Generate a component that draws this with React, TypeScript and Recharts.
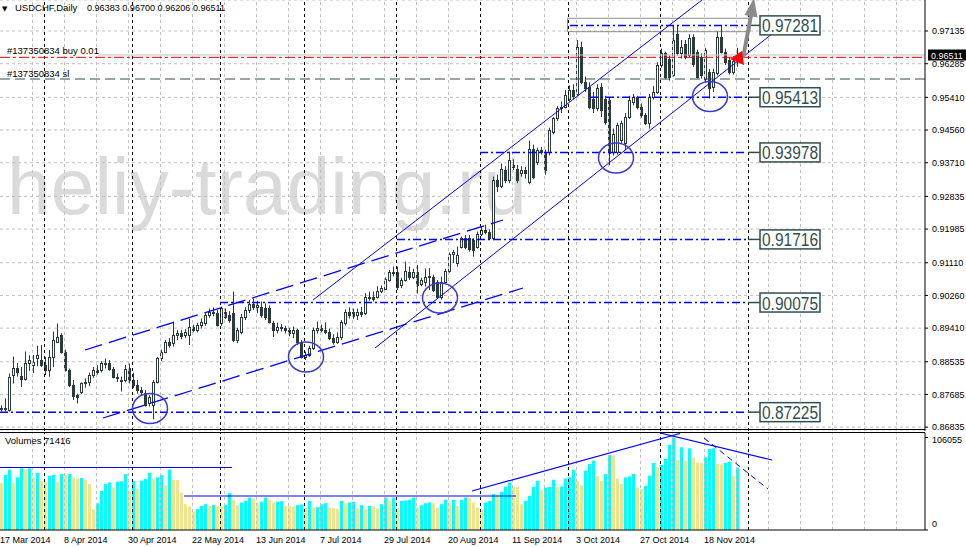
import React from "react";
import {
  ComposedChart,
  Bar,
  XAxis,
  YAxis,
  CartesianGrid,
  ReferenceLine,
  ReferenceDot,
  ReferenceArea,
} from "recharts";

// daily USDCHF candles, 17 Mar 2014 .. 28 Nov 2014
const opens = [
  0.8734, 0.873, 0.8728, 0.8819, 0.8836, 0.8816, 0.8808, 0.885, 0.8845, 0.8863,
  0.8858, 0.8845, 0.8832, 0.8865, 0.8906, 0.8923, 0.888, 0.8832, 0.8793, 0.8767,
  0.8776, 0.8797, 0.8801, 0.8819, 0.8832, 0.8832, 0.8849, 0.8849, 0.8834, 0.8815,
  0.8806, 0.8806, 0.8836, 0.8806, 0.8793, 0.878, 0.8771, 0.8745, 0.8741, 0.8802,
  0.8862, 0.888, 0.8906, 0.8901, 0.8923, 0.8927, 0.8923, 0.8923, 0.8945, 0.8936,
  0.8949, 0.8953, 0.8975, 0.8984, 0.898, 0.8953, 0.8984, 0.8975, 0.898, 0.891,
  0.8932, 0.8971, 0.8988, 0.9005, 0.8997, 0.8997, 0.8992, 0.8992, 0.8953, 0.8936,
  0.8945, 0.894, 0.8936, 0.8927, 0.8936, 0.8906, 0.8867, 0.8871, 0.8888, 0.8936,
  0.894, 0.8936, 0.893, 0.8915, 0.8906, 0.8918, 0.8953, 0.8983, 0.8983, 0.8975,
  0.8983, 0.898, 0.9023, 0.9022, 0.9022, 0.9038, 0.9043, 0.9067, 0.9088, 0.9088,
  0.9053, 0.9066, 0.9088, 0.9073, 0.9088, 0.9057, 0.9062, 0.9073, 0.9073, 0.9062,
  0.9022, 0.9062, 0.909, 0.9133, 0.9109, 0.9153, 0.9175, 0.9175, 0.917, 0.9153,
  0.9185, 0.9196, 0.9192, 0.9175, 0.9326, 0.931, 0.9352, 0.9326, 0.9365, 0.9356,
  0.9345, 0.9352, 0.9322, 0.9408, 0.9374, 0.9404, 0.94, 0.9398, 0.9452, 0.9486,
  0.9512, 0.9517, 0.9538, 0.956, 0.9551, 0.9673, 0.9582, 0.9569, 0.9538, 0.9512,
  0.9569, 0.9538, 0.9534, 0.94, 0.94, 0.943, 0.9421, 0.9491, 0.953, 0.9541,
  0.9517, 0.9495, 0.9473, 0.9543, 0.9556, 0.9625, 0.9655, 0.9642, 0.96, 0.9705,
  0.9655, 0.9681, 0.965, 0.9699, 0.966, 0.9647, 0.959, 0.9608, 0.9569, 0.9603,
  0.9699, 0.966, 0.9638, 0.9608, 0.96383,
];
const highs = [
  0.874, 0.8758, 0.8823, 0.8867, 0.885, 0.884, 0.888, 0.887, 0.8871, 0.8895,
  0.8897, 0.8866, 0.8884, 0.8932, 0.8953, 0.8928, 0.8885, 0.8836, 0.8806, 0.8771,
  0.88, 0.881, 0.8825, 0.884, 0.8845, 0.8855, 0.8862, 0.8858, 0.884, 0.8823,
  0.8815, 0.8845, 0.8849, 0.8825, 0.8806, 0.8788, 0.878, 0.8767, 0.8806, 0.8866,
  0.8885, 0.891, 0.8915, 0.8958, 0.8936, 0.8936, 0.8938, 0.8966, 0.895, 0.8955,
  0.8966, 0.898, 0.8992, 0.8995, 0.8988, 0.8997, 0.8992, 0.8985, 0.9036, 0.8942,
  0.8978, 0.8995, 0.9014, 0.9018, 0.9012, 0.901, 0.9005, 0.9, 0.896, 0.8955,
  0.8952, 0.8947, 0.8942, 0.8945, 0.894, 0.891, 0.888, 0.8895, 0.8942, 0.8958,
  0.895, 0.8956, 0.894, 0.8925, 0.893, 0.8962, 0.899, 0.8995, 0.8992, 0.8992,
  0.8996, 0.9032, 0.9036, 0.9036, 0.905, 0.9052, 0.9073, 0.9092, 0.9101, 0.9101,
  0.9072, 0.9114, 0.9101, 0.9095, 0.9105, 0.9072, 0.9096, 0.9097, 0.908, 0.9066,
  0.9075, 0.9095, 0.9138, 0.9144, 0.9153, 0.9179, 0.9183, 0.9183, 0.9175, 0.9192,
  0.9205, 0.921, 0.9198, 0.9335, 0.934, 0.9369, 0.9362, 0.94, 0.938, 0.9365,
  0.9362, 0.936, 0.9428, 0.9418, 0.941, 0.9412, 0.9405, 0.9462, 0.949, 0.9518,
  0.953, 0.956, 0.9572, 0.9575, 0.969, 0.9686, 0.9595, 0.958, 0.9555, 0.9575,
  0.9578, 0.9545, 0.954, 0.946, 0.9475, 0.948, 0.95, 0.9545, 0.955, 0.9545,
  0.9525, 0.95, 0.955, 0.957, 0.9632, 0.9668, 0.966, 0.965, 0.9728, 0.9728,
  0.969, 0.969, 0.9705, 0.9705, 0.9665, 0.9655, 0.967, 0.9615, 0.9615, 0.9712,
  0.9729, 0.9668, 0.9645, 0.9648, 0.967,
];
const lows = [
  0.8724, 0.8724, 0.8724, 0.8797, 0.8815, 0.8788, 0.8805, 0.883, 0.8824, 0.8842,
  0.884, 0.8819, 0.8815, 0.884, 0.8902, 0.8875, 0.8828, 0.8788, 0.8754, 0.8745,
  0.877, 0.8786, 0.879, 0.8812, 0.882, 0.8826, 0.8836, 0.883, 0.881, 0.8801,
  0.8776, 0.88, 0.8797, 0.8785, 0.8771, 0.8767, 0.8737, 0.8737, 0.8704, 0.8797,
  0.8855, 0.8876, 0.889, 0.8893, 0.891, 0.8912, 0.8915, 0.8897, 0.893, 0.893,
  0.894, 0.8947, 0.8968, 0.8972, 0.8945, 0.8947, 0.8965, 0.8955, 0.8905, 0.8902,
  0.8925, 0.8962, 0.898, 0.8988, 0.898, 0.8968, 0.8962, 0.8953, 0.8918, 0.8927,
  0.8932, 0.8927, 0.892, 0.8915, 0.8897, 0.8862, 0.8858, 0.8866, 0.8884, 0.8927,
  0.893, 0.8925, 0.891, 0.8898, 0.89, 0.891, 0.8948, 0.8966, 0.8965, 0.8962,
  0.897, 0.8975, 0.9012, 0.901, 0.9018, 0.9032, 0.904, 0.9062, 0.9075, 0.904,
  0.9045, 0.9062, 0.9066, 0.9068, 0.9031, 0.905, 0.9049, 0.904, 0.9035, 0.9018,
  0.9015, 0.9055, 0.9085, 0.911, 0.9101, 0.9148, 0.9146, 0.914, 0.9127, 0.9148,
  0.918, 0.9185, 0.917, 0.917, 0.9295, 0.9305, 0.9318, 0.9318, 0.9352, 0.9318,
  0.9335, 0.933, 0.9315, 0.9328, 0.9365, 0.9392, 0.934, 0.939, 0.9445, 0.948,
  0.95, 0.9512, 0.953, 0.9535, 0.9545, 0.9575, 0.9555, 0.951, 0.95, 0.9505,
  0.949, 0.947, 0.9365, 0.939, 0.9392, 0.942, 0.9404, 0.9485, 0.952, 0.951,
  0.9488, 0.9469, 0.946, 0.9535, 0.955, 0.9618, 0.9588, 0.9585, 0.9595, 0.965,
  0.9642, 0.964, 0.9645, 0.962, 0.959, 0.959, 0.958, 0.9538, 0.9555, 0.9598,
  0.9655, 0.9625, 0.96, 0.96, 0.96206,
];
const closes = [
  0.873, 0.8733, 0.8815, 0.8836, 0.8828, 0.8808, 0.885, 0.8857, 0.8853, 0.8871,
  0.8845, 0.8832, 0.8865, 0.891, 0.8919, 0.888, 0.8832, 0.8793, 0.8764, 0.8761,
  0.8797, 0.8801, 0.8819, 0.8832, 0.8828, 0.8849, 0.8848, 0.8834, 0.8815, 0.8811,
  0.8804, 0.8834, 0.8806, 0.8793, 0.878, 0.8776, 0.8741, 0.8763, 0.8802, 0.8862,
  0.888, 0.8906, 0.8897, 0.8923, 0.8927, 0.892, 0.893, 0.8945, 0.8936, 0.8949,
  0.8958, 0.8975, 0.8984, 0.898, 0.8949, 0.8992, 0.8971, 0.8962, 0.891, 0.8936,
  0.8971, 0.8988, 0.9005, 0.8997, 0.9001, 0.8975, 0.8971, 0.8958, 0.8936, 0.8945,
  0.894, 0.8936, 0.8927, 0.8936, 0.8906, 0.8867, 0.8871, 0.8888, 0.8936, 0.894,
  0.8936, 0.893, 0.8915, 0.8904, 0.8919, 0.8957, 0.8983, 0.8975, 0.8972, 0.8983,
  0.8978, 0.9023, 0.9019, 0.9017, 0.9038, 0.9045, 0.9069, 0.9088, 0.9085, 0.9049,
  0.9066, 0.909, 0.9073, 0.9086, 0.9053, 0.9066, 0.9075, 0.9077, 0.904, 0.9022,
  0.9062, 0.909, 0.9133, 0.9138, 0.9131, 0.9175, 0.9153, 0.9148, 0.9144, 0.9187,
  0.9196, 0.9192, 0.9175, 0.9326, 0.931, 0.9355, 0.9326, 0.9378, 0.936, 0.9326,
  0.9352, 0.9343, 0.9408, 0.9335, 0.9404, 0.94, 0.9352, 0.9456, 0.9486, 0.9512,
  0.9517, 0.9547, 0.956, 0.9545, 0.9673, 0.9582, 0.9564, 0.9517, 0.9512, 0.9564,
  0.9508, 0.9478, 0.9395, 0.9447, 0.9469, 0.9473, 0.9491, 0.9534, 0.9541, 0.9517,
  0.9495, 0.9473, 0.9543, 0.9556, 0.9625, 0.9655, 0.9595, 0.9595, 0.969, 0.9655,
  0.9673, 0.9647, 0.9695, 0.9629, 0.9595, 0.96, 0.9664, 0.9564, 0.9608, 0.9699,
  0.966, 0.9634, 0.9608, 0.9635, 0.96511,
];
const volumes = [
  53800, 63000, 69100, 54500, 60300, 70700, 69900, 70700, 60300, 65300,
  56400, 55300, 62200, 63000, 55300, 64100, 63000, 64100, 60300, 59100,
  59500, 57600, 52600, 23800, 30700, 44900, 52600, 54500, 48800, 55300,
  55700, 64100, 44900, 56400, 47600, 56400, 58400, 65300, 59100, 60300,
  63000, 51500, 69100, 57600, 57200, 43000, 29600, 26900, 20700, 23800,
  27600, 29600, 27600, 28400, 27600, 27300, 28800, 42200, 34600, 28400,
  31500, 33400, 37200, 36100, 31500, 32300, 37200, 34600, 31500, 32300,
  33000, 27600, 27300, 26900, 28400, 29200, 25700, 33400, 25700, 26100,
  29600, 30700, 25700, 25300, 24600, 33400, 30700, 31500, 32300, 25000,
  28400, 24600, 27600, 27300, 24600, 29600, 37200, 33400, 37200, 25700,
  33400, 33800, 34600, 37200, 25700, 28400, 30700, 31500, 30700, 25700,
  29600, 34600, 31500, 34600, 27600, 34600, 37200, 36800, 31500, 25700,
  23800, 31500, 33400, 41100, 40700, 43800, 49500, 54500, 49500, 49200,
  29600, 33400, 39200, 49500, 56400, 46100, 48800, 49200, 57600, 49500,
  49900, 59100, 60300, 69100, 56400, 51500, 68000, 75600, 79500, 62200,
  56400, 64100, 86000, 85600, 59100, 52600, 60300, 61400, 64100, 48800,
  46800, 50700, 62200, 76800, 71800, 74500, 81400, 97500, 106055, 80600,
  94800, 79500, 93700, 83300, 77600, 76800, 83300, 92900, 93700, 75600,
  75300, 76800, 78300, 62200, 71416,
];

const priceTicks = [
  0.97135, 0.96285, 0.9541, 0.9456, 0.9371, 0.92835, 0.91985, 0.9111, 0.9026,
  0.8941, 0.88535, 0.87685, 0.86835,
];
const dateTicks = [0, 16, 32, 48, 64, 80, 96, 112, 128, 144, 160, 176];
const dateLabels = [
  "17 Mar 2014", "8 Apr 2014", "30 Apr 2014", "22 May 2014", "13 Jun 2014", "7 Jul 2014",
  "29 Jul 2014", "20 Aug 2014", "11 Sep 2014", "3 Oct 2014", "27 Oct 2014", "18 Nov 2014",
];
const monthStarts = [11, 33, 55, 76, 99, 120, 142, 165, 187];

// horizontal levels drawn on the chart and where each one starts
const levels = [0.97281, 0.95413, 0.93978, 0.91716, 0.90075, 0.87225];
const levelStart = [142.125, 147.125, 119.625, 98.875, 54.625, -0.375];

// trend lines [x1, y1, x2, y2] in bar index / price
const solidLines = [
  [77.875, 0.90141, 175.125, 0.97941],
  [93.375, 0.88893, 195.125, 0.97265],
];
const dashedLines = [
  [20.875, 0.88841, 125.375, 0.92221],
  [25.375, 0.87073, 130.375, 0.90453],
];
const circleX = [37.125, 76.125, 109.625, 153.625, 177.125];
const circleY = [0.8732, 0.88659, 0.90193, 0.93833, 0.95432];

// volume window lines [x1, v1, x2, v2]
const volLines = [
  [-0.375, 71650, 57.6, 71650],
  [45.625, 38980, 128.625, 38980],
  [117.625, 44710, 169.625, 110627],
  [164.625, 111200, 192.625, 80247],
];
const volDashed = [175.625, 105468, 191.625, 47002];

const FONT = "'Liberation Sans', Arial, sans-serif";
const INK = "#2b3b3b";
const BLUE = "#0000ff";
const X_DOMAIN: [number, number] = [-0.375, 230.875];
const PRICE_DOMAIN: [number, number] = [0.86735, 0.97941];

const candles = opens.map((o, i) => ({
  i,
  o,
  h: highs[i],
  l: lows[i],
  c: closes[i],
  range: [lows[i], highs[i]],
}));
const volRows = volumes.map((v, i) => ({ i, v, up: i > 0 && v > volumes[i - 1] }));
const gridX = Array.from({ length: 28 }, (_, k) => 8 * (k + 1) - 0.25);

const Candle = (props: any) => {
  const { x, y, width, height, payload } = props;
  if (x == null || !payload) return null;
  const cx = Math.round(x + width / 2 - 0.5) + 0.5;
  const top = Math.min(y, y + height);
  const h = Math.abs(height);
  const span = payload.h - payload.l;
  const py = (p: number) => (span > 0 ? top + ((payload.h - p) / span) * h : top);
  const yo = py(payload.o);
  const yc = py(payload.c);
  const bull = payload.c >= payload.o;
  const b1 = Math.round(Math.min(yo, yc)) + 0.5;
  const b2 = Math.round(Math.max(yo, yc)) + 0.5;
  return (
    <g>
      <line x1={cx} x2={cx} y1={top} y2={top + h} stroke={INK} strokeWidth={1} />
      {b2 - b1 < 1 ? (
        <line x1={cx - 1.5} x2={cx + 1.5} y1={b1} y2={b1} stroke={INK} strokeWidth={1} />
      ) : (
        <rect x={cx - 1} y={b1} width={2} height={b2 - b1} fill={bull ? "#fff" : INK} stroke={INK} strokeWidth={1} />
      )}
    </g>
  );
};

const VolBar = (props: any) => {
  const { x, y, width, height, payload } = props;
  if (x == null || !payload) return null;
  const cx = x + width / 2;
  return (
    <rect x={Math.round(cx - 1.5)} y={y} width={3} height={Math.max(0, height)} fill={payload.up ? "#00ffff" : "#efe48e"} />
  );
};

const DateTick = (props: any) => {
  const { x, y, payload } = props;
  const k = dateTicks.indexOf(payload.value);
  return (
    <text x={x - 1.5} y={y + 7} fontSize={9} fontFamily={FONT} fill="#000" textAnchor="start">
      {k >= 0 ? dateLabels[k] : ""}
    </text>
  );
};

const VolTick = (props: any) => {
  const { x, y, payload } = props;
  return (
    <text x={x} y={payload.value === 0 ? y - 3.5 : y + 6} fontSize={9} fontFamily={FONT} fill="#000">
      {payload.value}
    </text>
  );
};

const levelLabel = (text: string) => (p: any) => (
  <g>
    <line x1={p.cx - 42} x2={p.cx - 30} y1={p.cy} y2={p.cy} stroke="#2f4f4f" strokeWidth={1.5} />
    <rect x={p.cx - 30} y={p.cy - 9.5} width={60} height={19} fill="#fff" stroke="#2f4f4f" strokeWidth={1.5} />
    <text x={p.cx} y={p.cy + 7} textAnchor="middle" fontSize={18.5} fontFamily={FONT} fill="#2f4f4f" textLength={56} lengthAdjust="spacingAndGlyphs">
      {text}
    </text>
  </g>
);

const ellipse = (p: any) => (
  <ellipse cx={p.cx} cy={p.cy} rx={17.5} ry={15} fill="none" stroke="#3a3acf" strokeWidth={1.5} />
);

const grayArrow = (p: any) => (
  <g>
    <line x1={p.cx} y1={p.cy} x2={p.cx + 8} y2={p.cy - 42.3} stroke="#8a8a8a" strokeWidth={4} />
    <polygon
      points={`${p.cx + 11},${p.cy - 60} ${p.cx + 14.5},${p.cy - 40.5} ${p.cx + 1.5},${p.cy - 43}`}
      fill="#8a8a8a"
    />
  </g>
);

const redMark = (p: any) => (
  <polygon points={`${p.cx - 7},${p.cy + 1} ${p.cx + 5},${p.cy - 7} ${p.cx + 7},${p.cy + 7}`} fill="#ff0000" />
);

export default function App() {
  return (
    <div style={{ position: "relative", width: 966, height: 547, background: "#fff", overflow: "hidden" }}>
      <style>{`html,body{margin:0;padding:0;background:#fff}`}</style>

      <svg width={925} height={431} style={{ position: "absolute", left: 0, top: 0 }}>
        <text x={7} y={214} fontSize={80} fontFamily={FONT} fill="#dadada" textLength={520} lengthAdjust="spacingAndGlyphs">
          heliy-trading.ru
        </text>
      </svg>

      <div style={{ position: "absolute", left: 0, top: 0 }}>
        <ComposedChart width={966} height={431} data={candles} margin={{ top: 0, right: 0, bottom: 0, left: 0 }}>
          <CartesianGrid vertical={false} stroke="#c0c0c0" strokeDasharray="3 3" />
          <XAxis dataKey="i" type="number" domain={X_DOMAIN} allowDataOverflow hide />
          <YAxis
            orientation="right"
            width={41}
            domain={PRICE_DOMAIN}
            allowDataOverflow
            ticks={priceTicks}
            interval={0}
            tickFormatter={(v: number) => v.toFixed(5)}
            tick={{ fontSize: 9, fill: "#000", fontFamily: FONT }}
            tickSize={3}
            tickMargin={4}
            stroke="#000"
          />
          {gridX.map((gx) => (
            <ReferenceLine key={"g" + gx} x={gx} stroke="#c0c0c0" strokeDasharray="3 3" />
          ))}
          {monthStarts.map((m) => (
            <ReferenceLine key={"m" + m} x={m - 0.25} stroke="#000" strokeDasharray="3 3" />
          ))}
          <ReferenceArea x1={141.5} x2={187.125} y1={0.97117} y2={0.97465} fill="none" fillOpacity={0} stroke="#8c8c8c" ifOverflow="hidden" />
          <ReferenceLine segment={[{ x: 24.125, y: 0.96511 }, { x: 230.875, y: 0.96511 }]} stroke="#c0c0c0" ifOverflow="hidden" />
          <ReferenceLine segment={[{ x: -0.375, y: 0.9645 }, { x: 230.875, y: 0.9645 }]} stroke="#ff0000" strokeDasharray="10 3 3 3" ifOverflow="hidden" />
          <ReferenceLine segment={[{ x: -0.375, y: 0.95887 }, { x: 230.875, y: 0.95887 }]} stroke="#2f4f4f" strokeDasharray="10 5" ifOverflow="hidden" />

          <Bar dataKey="range" barSize={3} shape={Candle} isAnimationActive={false} />

          {levels.map((lv, k) => (
            <ReferenceLine
              key={"l" + lv}
              segment={[{ x: levelStart[k], y: lv }, { x: 186.375, y: lv }]}
              stroke={BLUE}
              strokeWidth={1.5}
              strokeDasharray="8 3 2 3"
              ifOverflow="hidden"
            />
          ))}
          {levels.map((lv) => (
            <ReferenceDot key={"t" + lv} x={197.125} y={lv} r={1} shape={levelLabel(lv.toFixed(5))} />
          ))}
          {solidLines.map((s, k) => (
            <ReferenceLine key={"s" + k} segment={[{ x: s[0], y: s[1] }, { x: s[2], y: s[3] }]} stroke={BLUE} strokeWidth={1} ifOverflow="hidden" />
          ))}
          {dashedLines.map((s, k) => (
            <ReferenceLine key={"d" + k} segment={[{ x: s[0], y: s[1] }, { x: s[2], y: s[3] }]} stroke={BLUE} strokeWidth={1.3} strokeDasharray="18 7" ifOverflow="hidden" />
          ))}
          {circleX.map((cx, k) => (
            <ReferenceDot key={"c" + k} x={cx} y={circleY[k]} r={1} shape={ellipse} />
          ))}
          <ReferenceDot x={185.375} y={0.96433} r={1} shape={grayArrow} />
          <ReferenceDot x={183.875} y={0.96433} r={1} shape={redMark} />
        </ComposedChart>
      </div>

      <div style={{ position: "absolute", left: 0, top: 433 }}>
        <ComposedChart width={966} height={114} data={volRows} margin={{ top: 0, right: 0, bottom: 0, left: 0 }}>
          <XAxis
            dataKey="i"
            type="number"
            domain={X_DOMAIN}
            allowDataOverflow
            ticks={dateTicks}
            interval={0}
            height={17}
            tickLine={false}
            tickSize={4}
            tickMargin={2}
            tick={DateTick}
            stroke="#000"
          />
          <YAxis
            orientation="right"
            width={41}
            domain={[0, 111200]}
            allowDataOverflow
            ticks={[0, 106055]}
            interval={0}
            tick={VolTick}
            tickSize={3}
            tickMargin={4}
            stroke="#000"
          />
          {gridX.map((gx) => (
            <ReferenceLine key={"vg" + gx} x={gx} stroke="#c0c0c0" strokeDasharray="3 3" />
          ))}
          {monthStarts.map((m) => (
            <ReferenceLine key={"vm" + m} x={m - 0.25} stroke="#000" strokeDasharray="3 3" />
          ))}
          <Bar dataKey="v" barSize={3} shape={VolBar} isAnimationActive={false} />
          {volLines.map((s, k) => (
            <ReferenceLine key={"vl" + k} segment={[{ x: s[0], y: s[1] }, { x: s[2], y: s[3] }]} stroke={BLUE} strokeWidth={1.2} ifOverflow="hidden" />
          ))}
          <ReferenceLine
            segment={[{ x: volDashed[0], y: volDashed[1] }, { x: volDashed[2], y: volDashed[3] }]}
            stroke={BLUE}
            strokeWidth={1}
            strokeDasharray="6 4"
            ifOverflow="hidden"
          />
        </ComposedChart>
      </div>

      <svg width={966} height={547} style={{ position: "absolute", left: 0, top: 0, pointerEvents: "none" }}>
        <line x1={0} x2={925} y1={429.5} y2={429.5} stroke="#000" />
        <line x1={0} x2={925} y1={432.5} y2={432.5} stroke="#000" />
        <text x={2} y={10.5} fontSize={7} fontFamily="'DejaVu Sans', sans-serif" fill="#000">▼</text>
        <text x={15} y={11} fontSize={9.5} fontFamily={FONT} fill="#000">USDCHF,Daily</text>
        <text x={87} y={11} fontSize={9.5} fontFamily={FONT} fill="#000" textLength={138} lengthAdjust="spacingAndGlyphs">
          0.96383 0.96700 0.96206 0.96511
        </text>
        <text x={7} y={54} fontSize={9.5} fontFamily={FONT} fill="#000">#137350834 buy 0.01</text>
        <text x={7} y={76.5} fontSize={9.5} fontFamily={FONT} fill="#000">#137350834 sl</text>
        <text x={5} y={444} fontSize={9.5} fontFamily={FONT} fill="#000">Volumes 71416</text>
        <rect x={928} y={49.5} width={38} height={11} fill="#000" />
        <text x={931} y={58.5} fontSize={9} fontFamily={FONT} fill="#fff">0.96511</text>
      </svg>
    </div>
  );
}
